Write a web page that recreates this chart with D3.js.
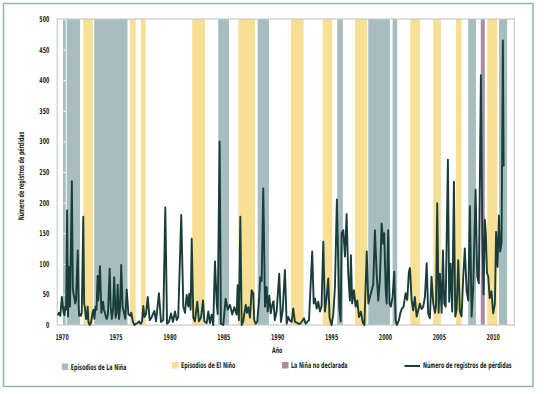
<!DOCTYPE html>
<html>
<head>
<meta charset="utf-8">
<script src="https://cdn.jsdelivr.net/npm/d3@7"></script>
<style>
  body { margin: 0; background: #fff; }
  svg { display: block; }
  text { font-family: "Liberation Sans Narrow", "DejaVu Sans Condensed", sans-serif; font-weight: bold; fill: #231f20; }
</style>
</head>
<body>
<div id="chart"></div>
<script>
// episodes, in decimal years [start, end]
const ninaEpisodes = [
  [1970.13, 1971.71], [1973.03, 1976.11], [1984.53, 1985.53], [1988.19, 1989.24],
  [1995.57, 1996.10], [1998.45, 2000.46], [2000.71, 2001.14], [2007.72, 2008.44],
  [2010.58, 2011.34]
];
const ninoEpisodes = [
  [1972.01, 1972.91], [1976.34, 1976.87], [1977.36, 1977.80], [1982.12, 1983.30],
  [1986.39, 1987.94], [1991.28, 1992.46], [1994.22, 1995.11], [1997.22, 1998.36],
  [2002.35, 2003.25], [2004.48, 2005.19], [2006.58, 2007.11], [2009.49, 2010.42]
];
const undeclaredEpisodes = [[2008.89, 2009.26]];

// number of loss records, [year, count]
const lossRecords = [
  [1969.64,16],[1969.76,20],[1969.88,15],[1970.02,46],[1970.18,20],[1970.27,16],[1970.34,30],[1970.41,25],
  [1970.51,187],[1970.59,14],[1970.69,95],[1970.78,30],[1970.95,235],[1971.04,60],[1971.11,50],[1971.18,45],
  [1971.26,35],[1971.33,40],[1971.50,122],[1971.58,30],[1971.63,15],[1971.72,18],[1971.80,15],[1971.87,20],
  [1972.01,177],[1972.09,35],[1972.17,28],[1972.26,10],[1972.34,10],[1972.42,30],[1972.49,5],[1972.60,0],
  [1972.68,2],[1972.77,8],[1972.87,20],[1972.96,25],
  [1973.04,10],[1973.14,30],[1973.24,25],[1973.34,80],[1973.40,40],[1973.56,96],[1973.69,20],[1973.77,30],
  [1973.85,38],[1973.93,25],[1974.02,20],[1974.12,12],[1974.20,10],[1974.30,18],[1974.46,92],[1974.55,30],
  [1974.66,10],[1974.77,25],[1974.88,78],[1975.01,12],[1975.11,20],[1975.20,66],[1975.33,10],[1975.43,30],
  [1975.53,98],[1975.66,30],[1975.79,20],[1975.91,10],[1976.04,58],[1976.20,18],[1976.36,15],[1976.46,20],
  [1976.62,5],[1976.76,0],[1976.90,2],[1977.04,3],[1977.18,6],[1977.32,2],[1977.46,5],[1977.58,31],
  [1977.69,13],[1977.83,18],[1977.99,46],[1978.17,8],
  [1978.34,12],[1978.60,23],[1978.76,6],[1979.03,52],[1979.22,5],[1979.43,8],[1979.62,192],[1979.78,2],
  [1979.96,5],[1980.15,19],[1980.33,5],[1980.52,22],[1980.68,8],[1980.82,13],[1981.10,180],[1981.29,30],
  [1981.45,20],[1981.60,49],[1981.75,30],[1981.84,51],[1981.97,25],[1982.07,141],[1982.22,12],[1982.37,6],
  [1982.59,38],[1982.74,6],[1982.93,12],[1983.12,40],[1983.24,6],[1983.46,3],[1983.61,22],[1983.76,3],
  [1983.92,17],[1984.07,0],[1984.23,104],[1984.39,35],[1984.48,18],[1984.66,300],[1984.78,2],[1985.00,0],
  [1985.22,43],[1985.41,25],[1985.62,33],[1985.83,17],[1986.02,29],[1986.24,17],[1986.33,65],[1986.45,8],
  [1986.58,177],[1986.71,0],[1986.85,6],[1987.08,33],[1987.20,20],[1987.32,29],[1987.48,12],[1987.63,57],
  [1987.78,52],[1987.87,8],[1988.00,2],[1988.15,5],[1988.31,39],[1988.43,78],[1988.56,72],[1988.71,223],
  [1988.87,30],[1989.02,62],[1989.12,22],[1989.27,48],[1989.40,19],[1989.54,33],[1989.66,39],[1989.78,8],
  [1989.95,22],[1990.19,84],[1990.35,5],[1990.51,24],[1990.72,90],[1990.88,2],[1991.03,13],[1991.19,7],
  [1991.35,5],[1991.49,27],[1991.65,5],[1991.81,4],[1991.96,2],[1992.11,2],[1992.27,5],[1992.49,11],
  [1992.64,2],[1992.79,5],[1992.95,8],[1993.25,120],[1993.39,35],[1993.51,43],[1993.67,27],[1993.81,38],
  [1993.97,22],[1994.12,31],[1994.28,136],[1994.43,22],[1994.59,46],[1994.74,76],[1994.86,12],
  [1995.05,0],[1995.20,17],[1995.36,62],[1995.54,205],[1995.67,100],[1995.76,28],[1995.89,6],[1995.98,150],
  [1996.13,155],[1996.29,112],[1996.44,181],[1996.59,84],[1996.75,40],[1996.84,114],[1996.96,35],[1997.12,57],
  [1997.28,30],[1997.43,40],[1997.59,13],[1997.77,22],[1997.93,5],[1998.09,0],[1998.31,120],[1998.46,35],
  [1998.61,46],[1998.76,56],[1998.91,66],[1999.07,155],[1999.23,84],[1999.38,40],[1999.53,74],[1999.69,166],
  [1999.84,133],[1999.93,150],[2000.07,57],[2000.16,35],[2000.30,155],[2000.43,35],[2000.55,30],[2000.71,46],
  [2000.86,87],[2000.99,8],[2001.11,0],[2001.30,8],[2001.42,19],[2001.58,27],[2001.73,30],[2001.92,52],
  [2002.07,41],[2002.22,87],[2002.32,93],[2002.47,41],[2002.62,24],[2002.77,46],[2002.94,14],[2003.09,24],
  [2003.24,35],[2003.40,26],[2003.55,30],[2003.71,46],[2003.87,101],[2004.01,19],[2004.17,11],[2004.32,79],
  [2004.48,35],[2004.64,20],[2004.73,30],[2004.85,199],[2004.98,20],[2005.10,84],[2005.26,20],[2005.38,122],
  [2005.50,35],[2005.63,30],[2005.84,270],[2005.96,38],[2006.09,100],[2006.24,22],[2006.40,234],[2006.52,14],
  [2006.65,25],[2006.80,106],[2006.95,22],[2007.11,14],[2007.26,79],[2007.41,125],[2007.58,55],[2007.73,40],
  [2007.88,194],[2008.04,14],[2008.19,62],[2008.41,221],[2008.56,79],[2008.71,68],[2008.90,408],[2009.02,172],
  [2009.15,50],[2009.27,172],[2009.36,150],[2009.46,86],[2009.58,79],[2009.72,44],[2009.88,55],[2010.04,19],
  [2010.20,35],[2010.31,152],[2010.45,95],[2010.57,179],[2010.69,120],[2010.82,135],[2010.94,465],[2011.01,259]
];

const xTickYears = [1970, 1975, 1980, 1985, 1990, 1995, 2000, 2005, 2010];
const yTicks = [0, 50, 100, 150, 200, 250, 300, 350, 400, 450, 500];

const legendItems = [
  { label: "Episodios de La Niña", kind: "nina" },
  { label: "Episodios de El Niño", kind: "nino" },
  { label: "La Niña no declarada", kind: "undeclared" },
  { label: "Número de registros de pérdidas", kind: "line" }
];

const w = 546, h = 394;
const fontSize = 8;
const colors = { nina: "#a8bdbf", nino: "#f7df93", undeclared: "#a98da0", line: "#183d3a" };

const svg = d3.select("#chart").append("svg")
  .attr("width", w)
  .attr("height", h);

// outer frame
svg.append("rect")
  .attr("x", 3.5).attr("y", 3.5)
  .attr("width", 529.5).attr("height", 383)
  .attr("fill", "none")
  .attr("stroke", "#92b3b7")
  .attr("stroke-width", 1.5);

const plot = { left: 57.3, right: 514.3, top: 19, bottom: 325 };

const x = d3.scaleLinear()
  .domain([1969.6, 2012.0])
  .range([plot.left, plot.right]);

const y = d3.scaleLinear()
  .domain([0, 500])
  .range([plot.bottom, plot.top]);

const drawBands = (episodes, color) => {
  svg.append("g")
    .selectAll("rect")
    .data(episodes)
    .enter()
    .append("rect")
    .attr("x", d => x(d[0]))
    .attr("y", plot.top)
    .attr("width", d => x(d[1]) - x(d[0]))
    .attr("height", plot.bottom - plot.top)
    .attr("fill", color);
};

drawBands(ninaEpisodes, colors.nina);
drawBands(ninoEpisodes, colors.nino);
drawBands(undeclaredEpisodes, colors.undeclared);

// the white axis line that cuts the first La Niña band
svg.append("g")
  .attr("transform", "translate(" + x(1970.38) + ",0)")
  .call(d3.axisLeft(y).tickValues(yTicks).tickSize(2.5).tickFormat(""))
  .call(g => g.selectAll("path, line").attr("stroke", "#fff").attr("stroke-width", 1));

// plot border
svg.append("rect")
  .attr("x", plot.left).attr("y", plot.top)
  .attr("width", plot.right - plot.left)
  .attr("height", plot.bottom - plot.top)
  .attr("fill", "none")
  .attr("stroke", "#c8c8c8")
  .attr("stroke-width", 1.2);

const line = d3.line()
  .x(d => x(d[0]))
  .y(d => y(d[1]));

svg.append("path")
  .datum(lossRecords)
  .attr("d", line)
  .attr("fill", "none")
  .attr("stroke", colors.line)
  .attr("stroke-width", 1.9)
  .attr("stroke-linejoin", "round");

// axes
svg.append("g")
  .attr("transform", "translate(" + plot.left + ",0)")
  .call(d3.axisLeft(y).tickValues(yTicks).tickSize(0).tickPadding(8))
  .call(g => g.select(".domain").remove())
  .selectAll("text")
  .attr("font-size", fontSize)
  .attr("font-family", null);

svg.append("g")
  .attr("transform", "translate(0," + plot.bottom + ")")
  .call(d3.axisBottom(x).tickValues(xTickYears).tickFormat(d3.format("d")).tickSize(0).tickPadding(9))
  .call(g => g.select(".domain").remove())
  .selectAll("text")
  .attr("font-size", fontSize)
  .attr("font-family", null);

svg.append("text")
  .text("Año")
  .attr("x", (x(1970) + x(2010)) / 2)
  .attr("y", 353.5)
  .attr("text-anchor", "middle")
  .attr("font-size", fontSize);

svg.append("text")
  .text("Número de registros de pérdidas")
  .attr("x", 0).attr("y", 0)
  .attr("transform", "translate(24," + ((plot.top + plot.bottom) / 2 + 4) + ") rotate(-90)")
  .attr("text-anchor", "middle")
  .attr("font-size", fontSize);

// legend
const legendX = [61.8, 171.9, 282, 404.5];
const legend = svg.append("g")
  .selectAll("g")
  .data(legendItems)
  .enter()
  .append("g")
  .attr("transform", (d, i) => "translate(" + legendX[i] + "," + (i === 0 ? 367 : 365.5) + ")");

legend.filter(d => d.kind !== "line")
  .append("rect")
  .attr("x", 0).attr("y", -3.5)
  .attr("width", 6.5).attr("height", 6.5)
  .attr("fill", d => colors[d.kind]);

legend.filter(d => d.kind === "line")
  .append("line")
  .attr("x1", 0).attr("x2", 15.5)
  .attr("y1", 0.5).attr("y2", 0.5)
  .attr("stroke", colors.line)
  .attr("stroke-width", 2);

const legendText = legend.append("text")
  .text(d => d.label)
  .attr("x", d => d.kind === "line" ? 18.5 : 9)
  .attr("y", 2.7)
  .attr("font-size", fontSize);

// the original uses a very condensed face: squeeze every label horizontally
// around its own anchor point
const longest = legendText.filter(d => d.kind === "line").node().getComputedTextLength();
const squeeze = Math.min(1, 89 / longest);
svg.selectAll("text").each(function () {
  const t = d3.select(this);
  const ax = +t.attr("x") || 0;
  const ay = +t.attr("y") || 0;
  const before = t.attr("transform") || "";
  t.attr("transform", before + " translate(" + ax + "," + ay + ") scale(" + squeeze + ",1) translate(" + (-ax) + "," + (-ay) + ")");
});
</script>
</body>
</html>
